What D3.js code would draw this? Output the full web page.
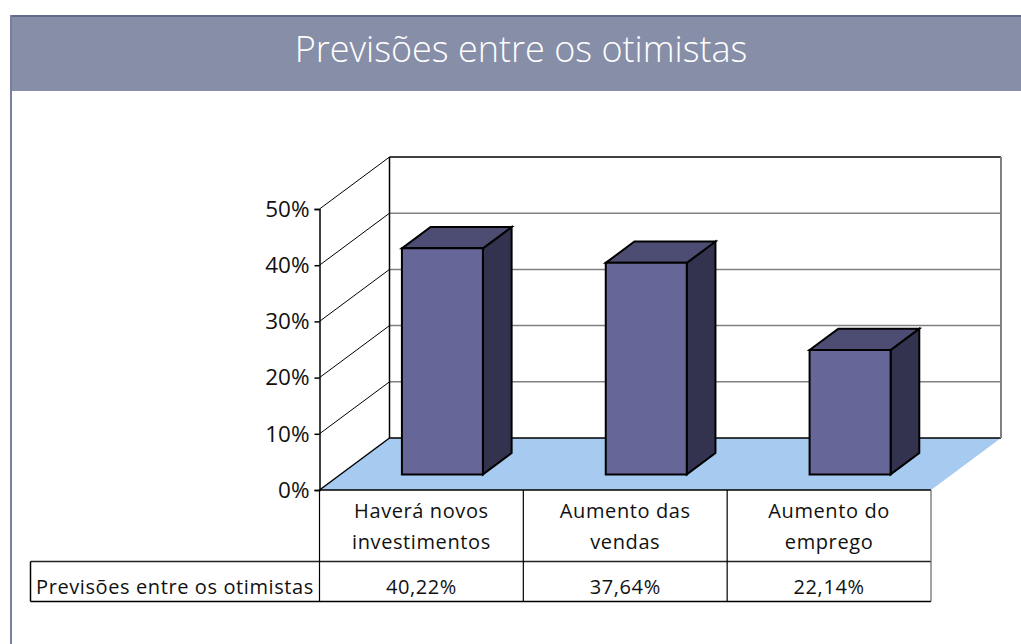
<!DOCTYPE html>
<html><head><meta charset="utf-8">
<script src="https://cdn.jsdelivr.net/npm/d3@7"></script>
<style>
html,body{margin:0;padding:0;background:#fff;overflow:hidden}
svg{display:block}
text{font-family:"Open Sans",sans-serif;fill:#111}
</style></head><body>
<svg id="c" width="1021" height="644"></svg>
<script>
const title = "Previsões entre os otimistas";
const seriesName = "Previsões entre os otimistas";
const categories = [["Haverá novos","investimentos"],["Aumento das","vendas"],["Aumento do","emprego"]];
const values = [40.22,37.64,22.14];
const valueLabels = ["40,22%","37,64%","22,14%"];
const yTicks = [0,10,20,30,40,50];

const svg = d3.select("#c");
const X0=319.5, X1=931, Y0=490, Y50=209, DX=70, DY=-52;
const barDepthNear=0.3, barDepthFar=0.71;
const x = d3.scaleBand().domain(d3.range(categories.length)).range([X0,X1]).paddingInner(0).paddingOuter(0);
const y = d3.scaleLinear().domain([0,50]).range([Y0,Y50]);
const gridColor="#808080";
const line=(a,b,c,w,par=svg)=>par.append("line").attr("x1",a[0]).attr("y1",a[1]).attr("x2",b[0]).attr("y2",b[1]).attr("stroke",c).attr("stroke-width",w);
const poly=(pts,fill)=>svg.append("polygon").attr("points",pts.map(p=>p.join(",")).join(" ")).attr("fill",fill).attr("stroke","#000").attr("stroke-width",2).attr("stroke-linejoin","miter");

// panel
svg.append("rect").attr("x",10).attr("y",15).attr("width",1011).attr("height",76).attr("fill","#878ea8");
svg.append("rect").attr("x",10).attr("y",15).attr("width",1011).attr("height",2).attr("fill","#636b8c");
svg.append("rect").attr("x",10).attr("y",15).attr("width",2).attr("height",629).attr("fill","#7580a4");
svg.append("text").attr("x",521).attr("y",62).attr("text-anchor","middle").attr("font-size",36).style("fill","#fff").style("font-weight",300).text(title);

// floor
svg.append("polygon").attr("points",[[X0,Y0],[X1,Y0],[X1+DX,Y0+DY],[X0+DX,Y0+DY]].map(p=>p.join(",")).join(" ")).attr("fill","#a6caf0");

// wall gridlines
yTicks.forEach(t=>{
  if(t>0) line([X0,y(t)],[X0+DX,y(t)+DY],"#000",1);
  line([X0+DX,y(t)+DY],[X1+DX,y(t)+DY], t===0||t===50?"#000":gridColor, 1.5);
});
line([X0+DX,y(50)+DY],[X0+DX,Y0+DY],"#000",1.5);
line([X1+DX,y(50)+DY],[X1+DX,Y0+DY],gridColor,2);
line([X0,Y0],[X0+DX,Y0+DY],"#000",1.5);

// y axis
const axisG = svg.append("g").attr("transform",`translate(${X0},0)`)
  .call(d3.axisLeft(y).tickValues(yTicks).tickFormat(d=>d+"%").tickSize(5).tickPadding(5));
axisG.selectAll("path").attr("stroke","#000").attr("stroke-width",1.5);
axisG.selectAll("line").attr("stroke","#000").attr("stroke-width",1.5);
axisG.selectAll("text").attr("font-size",22.5).attr("font-family","Open Sans").style("fill","#111");

// bars
values.forEach((v,i)=>{
  const bw=x.bandwidth(), inset=(bw-81)/2;
  const L=x(i)+inset+barDepthNear*DX, R=L+81;
  const B=y(0)+barDepthNear*DY, T=B-(y(0)-y(v));
  const ddx=(barDepthFar-barDepthNear)*DX, ddy=(barDepthFar-barDepthNear)*DY;
  poly([[R,B],[R+ddx,B+ddy],[R+ddx,T+ddy],[R,T]],"#33334f");
  poly([[L,T],[L+ddx,T+ddy],[R+ddx,T+ddy],[R,T]],"#4d4d74");
  poly([[L,T],[R,T],[R,B],[L,B]],"#666699");
});

// data table
const TX=30.5, R1=561.5, R2=601.5;
line([X0,Y0],[X1,Y0],"#000",1.5);
line([TX,R1],[X1,R1],"#222",1.5);
line([TX,R2],[X1,R2],"#000",1.5);
line([TX,R1],[TX,R2],"#000",1.5);
line([X0,Y0],[X0,R2],"#000",1.2);
categories.forEach((c,i)=>{
  const xr=x(i)+x.bandwidth();
  line([xr,Y0],[xr,R2],i===categories.length-1?"#666":"#000",1.2);
  const cx=x(i)+x.bandwidth()/2;
  c.forEach((s,j)=>svg.append("text").attr("x",cx).attr("y",518+j*31).attr("text-anchor","middle").attr("font-size",20).style("letter-spacing","0.6px").text(s));
  svg.append("text").attr("x",cx).attr("y",594).attr("text-anchor","middle").attr("font-size",20).style("letter-spacing","0.6px").text(valueLabels[i]);
});
svg.append("text").attr("x",36).attr("y",594).attr("font-size",20).style("letter-spacing","0.6px").text(seriesName);
</script>
</body></html>
